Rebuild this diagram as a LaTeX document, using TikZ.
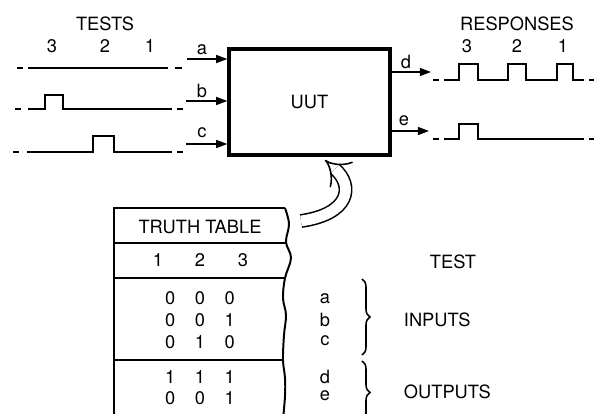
\documentclass[tikz,border=0pt]{standalone}
\usepackage{fontspec}
\setmainfont{TeX Gyre Heros}
\usetikzlibrary{arrows.meta}
\usetikzlibrary{decorations.pathreplacing}

\begin{document}
\begin{tikzpicture}[x=0.25mm, y=-0.25mm, font=\fontsize{13}{15}\selectfont,
		wave/.style={line width=1.5pt},
		inarrow/.style={line width=1.1pt, -{Triangle[length=2.8mm, width=2mm]}},
		rule/.style={line width=1.4pt},
		grp/.style={line width=1.1pt, decorate, decoration={brace, amplitude=2mm}}]
	\useasboundingbox (0,0) rectangle (594,414);
	\node[draw, line width=2.3pt, minimum width=40.25mm, minimum height=26.5mm, inner sep=0pt] (uut) at (309.5,102) {UUT};
	\node (tests) at (105,24) {TESTS};
	\node (t3) at ( 52,46) {3};
	\node (t2) at (105,46) {2};
	\node (t1) at (150,46) {1};
	\node (resp) at (517,24) {RESPONSES};
	\node (r3) at (467,46) {3};
	\node (r2) at (517,46) {2};
	\node (r1) at (563,46) {1};
	\node (la) at (202,50) {a};
	\node (lb) at (202,91) {b};
	\node (lc) at (202,133) {c};
	\node (ld) at (406,62) {d};
	\node (le) at (404,121) {e};
	\coordinate (ina) at (187,59);
	\coordinate (inb) at (186,101);
	\coordinate (inc) at (186,144);
	\coordinate (outd) at (431,72);
	\coordinate (oute) at (429,131);
	\draw[inarrow] (ina) -- (ina -| uut.west);
	\draw[inarrow] (inb) -- (inb -| uut.west);
	\draw[inarrow] (inc) -- (inc -| uut.west);
	\draw[inarrow] (outd -| uut.east) -- (outd);
	\draw[inarrow] (oute -| uut.east) -- (oute);
	\begin{scope}[wave]
		\draw (17,68) -- (23,68) (28,68) -- (168,68) (175,68) -- (182,68);
		\draw (15,109) -- (21,109) (28,109) -- (45,109) -- (45,95) -- (63,95) -- (63,109) -- (172,109) (177,109) -- (183,109);
		\draw (13,152) -- (19,152) (27,152) -- (93,152) -- (93,136) -- (114,136) -- (114,152) -- (172,152) (177,152) -- (183,152);
		\draw (433,80) -- (439,80) (444,80) -- (459,80) -- (459,64) -- (478,64) -- (478,80) -- (508,80) -- (508,64) -- (526,64) -- (526,80) -- (557,80) -- (557,64) -- (573,64) -- (573,80) -- (584,80) (589,80) -- (595,80);
		\draw (433,139) -- (439,139) (444,139) -- (459,139) -- (459,124) -- (478,124) -- (478,139) -- (584,139) (589,139) -- (595,139);
	\end{scope}
	\begin{scope}[rule]
		\draw (114,420) -- (114,208) -- (285,208);
		\draw (114,243) -- (286,243);
		\draw (114,278) -- (285,278);
		\draw (114,360) -- (283,360);
		\draw plot[smooth, tension=0.6] coordinates {(285,208) (289,224) (286,242) (291,258) (285,278) (283,298) (286,315) (284,335) (283,360) (285,378) (285,396) (283,420)};
	\end{scope}
	\node (title) at (200,227) {TRUTH TABLE};
	\node (c1) at (158,260) {1};
	\node (c2) at (200,260) {2};
	\node (c3) at (243,260) {3};
	\node (i1) at (200,298) {0\hspace{4.9mm}0\hspace{4.9mm}0};
	\node (i2) at (200,320) {0\hspace{4.9mm}0\hspace{4.9mm}1};
	\node (i3) at (200,342) {0\hspace{4.9mm}1\hspace{4.9mm}0};
	\node (o1) at (200,377) {1\hspace{4.9mm}1\hspace{4.9mm}1};
	\node (o2) at (200,398) {0\hspace{4.9mm}0\hspace{4.9mm}1};
	\node (test) at (453,262) {TEST};
	\node (sa) at (325,299) {a};
	\node (sb) at (325,320) {b};
	\node (sc) at (325,341) {c};
	\node (sd) at (325,377) {d};
	\node (se) at (325,396) {e};
	\draw[grp] (362,279) -- (362,355);
	\draw[grp] (362,361) -- (362,424);
	\node[anchor=west] (inputs) at (399,320) {INPUTS};
	\node[anchor=west] (outputs) at (399,392) {OUTPUTS};
	\coordinate (ttout) at (301,221);
	\coordinate (uutin) at (325,160);
	\draw[line width=1.1pt, double, double distance=2.7mm, -{Implies}] (ttout) .. controls (350,214) and (354,186) .. (uutin);
\end{tikzpicture}
\end{document}
